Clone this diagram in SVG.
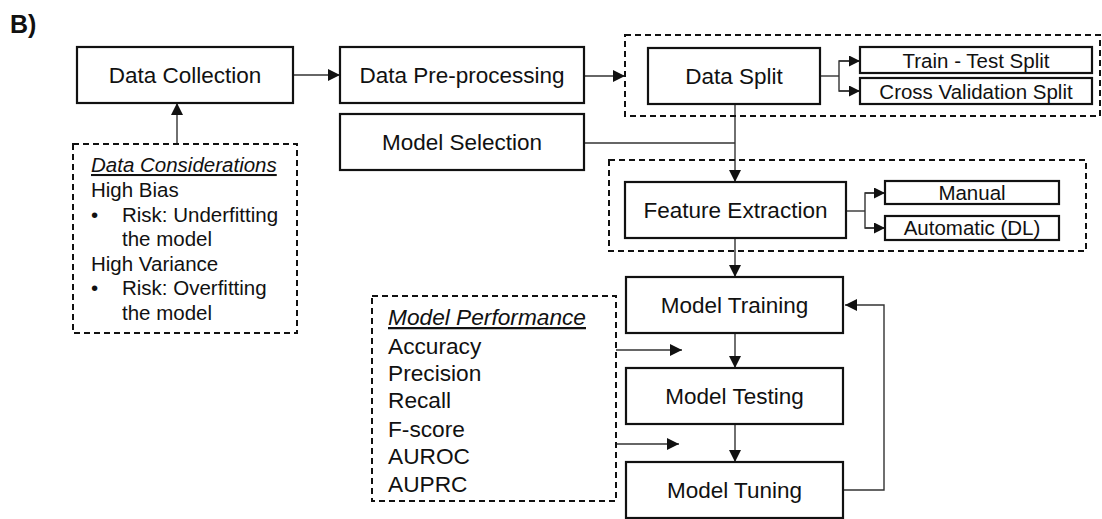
<svg xmlns="http://www.w3.org/2000/svg" width="1102" height="519" viewBox="0 0 1102 519">
<defs>
<style>
.box{fill:#fff;stroke:#111;stroke-width:2.2}
.dash{fill:none;stroke:#111;stroke-width:2;stroke-dasharray:6,4}
.lbl{font-family:"Liberation Sans",Arial,sans-serif;font-size:22.5px;fill:#111;text-anchor:middle}
.sm{font-family:"Liberation Sans",Arial,sans-serif;font-size:20.5px;fill:#111;text-anchor:middle}
.txt{font-family:"Liberation Sans",Arial,sans-serif;fill:#111}
.con{fill:none;stroke:#333;stroke-width:1.4}
</style>
<marker id="ah" markerUnits="userSpaceOnUse" markerWidth="13" markerHeight="13" refX="12" refY="6" orient="auto">
<path d="M0,0 L12,6 L0,12 Z" fill="#111"/>
</marker>
<marker id="ahs" markerUnits="userSpaceOnUse" markerWidth="12" markerHeight="12" refX="11" refY="5.5" orient="auto">
<path d="M0,0 L11,5.5 L0,11 Z" fill="#111"/>
</marker>
</defs>
<rect width="1102" height="519" fill="#fff"/>
<text x="10" y="33" class="txt" font-size="25" font-weight="bold">B)</text>

<g id="connectors">
<line class="con" x1="293" y1="75" x2="340" y2="75" marker-end="url(#ah)"/>
<line class="con" x1="177" y1="144" x2="177" y2="103" marker-end="url(#ah)"/>
<line class="con" x1="584" y1="76" x2="625" y2="76" marker-end="url(#ah)"/>
<polyline class="con" points="820,76 839,76"/>
<polyline class="con" points="860,61 839,61 839,91 860,91"/>
<line class="con" x1="839" y1="61" x2="860" y2="61" marker-end="url(#ahs)"/>
<line class="con" x1="839" y1="91" x2="860" y2="91" marker-end="url(#ahs)"/>
<line class="con" x1="735" y1="104" x2="735" y2="182" marker-end="url(#ah)"/>
<line class="con" x1="584" y1="143" x2="735" y2="143"/>
<polyline class="con" points="846,211 865,211"/>
<polyline class="con" points="885,193 865,193 865,228 885,228"/>
<line class="con" x1="865" y1="193" x2="885" y2="193" marker-end="url(#ahs)"/>
<line class="con" x1="865" y1="228" x2="885" y2="228" marker-end="url(#ahs)"/>
<line class="con" x1="735" y1="238" x2="735" y2="277" marker-end="url(#ah)"/>
<line class="con" x1="735" y1="333" x2="735" y2="368" marker-end="url(#ah)"/>
<line class="con" x1="735" y1="424" x2="735" y2="462" marker-end="url(#ah)"/>
<polyline class="con" stroke="#555" points="843,490 884,490 884,305 845,305" marker-end="url(#ah)"/>
<line class="con" x1="616" y1="350" x2="682" y2="350" marker-end="url(#ah)"/>
<line class="con" x1="616" y1="444" x2="679" y2="444" marker-end="url(#ah)"/>
</g>

<g id="data-collection">
<rect class="box" x="77" y="47" width="216" height="56"/>
<text class="lbl" x="185" y="83">Data Collection</text>
</g>
<g id="data-preprocessing">
<rect class="box" x="340" y="47" width="244" height="56"/>
<text class="lbl" x="462" y="83">Data Pre-processing</text>
</g>
<g id="model-selection">
<rect class="box" x="340" y="114" width="244" height="56"/>
<text class="lbl" x="462" y="150">Model Selection</text>
</g>
<g id="data-split-group">
<rect class="dash" x="625" y="35" width="475" height="81"/>
</g>
<g id="data-split">
<rect class="box" x="648" y="48" width="172" height="56"/>
<text class="lbl" x="734" y="84">Data Split</text>
</g>
<g id="train-test-split">
<rect class="box" x="860" y="47" width="232" height="26"/>
<text class="sm" x="976" y="68">Train - Test Split</text>
</g>
<g id="cross-validation-split">
<rect class="box" x="860" y="78" width="232" height="26"/>
<text class="sm" x="976" y="99">Cross Validation Split</text>
</g>
<g id="feature-extraction-group">
<rect class="dash" x="609" y="160" width="477" height="91"/>
</g>
<g id="feature-extraction">
<rect class="box" x="625" y="182" width="221" height="56"/>
<text class="lbl" x="735.5" y="218">Feature Extraction</text>
</g>
<g id="manual">
<rect class="box" x="885" y="181" width="174" height="23"/>
<text class="sm" x="972" y="200">Manual</text>
</g>
<g id="automatic">
<rect class="box" x="885" y="216" width="174" height="24"/>
<text class="sm" x="972" y="235">Automatic (DL)</text>
</g>
<g id="model-training">
<rect class="box" x="626" y="277" width="217" height="56"/>
<text class="lbl" x="734.5" y="313">Model Training</text>
</g>
<g id="model-testing">
<rect class="box" x="626" y="368" width="217" height="56"/>
<text class="lbl" x="734.5" y="404">Model Testing</text>
</g>
<g id="model-tuning">
<rect class="box" x="626" y="462" width="217" height="56"/>
<text class="lbl" x="734.5" y="498">Model Tuning</text>
</g>
<g id="data-considerations">
<rect class="dash" x="73" y="144" width="224" height="189"/>
<text class="txt" font-size="20.5" x="91" y="172" font-style="italic" text-decoration="underline">Data Considerations</text>
<text class="txt" font-size="20.5" x="91" y="197">High Bias</text>
<text class="txt" font-size="20.5" x="91" y="222">•</text>
<text class="txt" font-size="20.5" x="122" y="222">Risk: Underfitting</text>
<text class="txt" font-size="20.5" x="122" y="246">the model</text>
<text class="txt" font-size="20.5" x="91" y="271">High Variance</text>
<text class="txt" font-size="20.5" x="91" y="295">•</text>
<text class="txt" font-size="20.5" x="122" y="295">Risk: Overfitting</text>
<text class="txt" font-size="20.5" x="122" y="320">the model</text>
</g>
<g id="model-performance">
<rect class="dash" x="372" y="296" width="244" height="205"/>
<text class="txt" font-size="22.7" x="388" y="325" font-style="italic" text-decoration="underline">Model Performance</text>
<text class="txt" font-size="22.7" x="388" y="354">Accuracy</text>
<text class="txt" font-size="22.7" x="388" y="381">Precision</text>
<text class="txt" font-size="22.7" x="388" y="408">Recall</text>
<text class="txt" font-size="22.7" x="388" y="437">F-score</text>
<text class="txt" font-size="22.7" x="388" y="464">AUROC</text>
<text class="txt" font-size="22.7" x="388" y="492">AUPRC</text>
</g>
</svg>
